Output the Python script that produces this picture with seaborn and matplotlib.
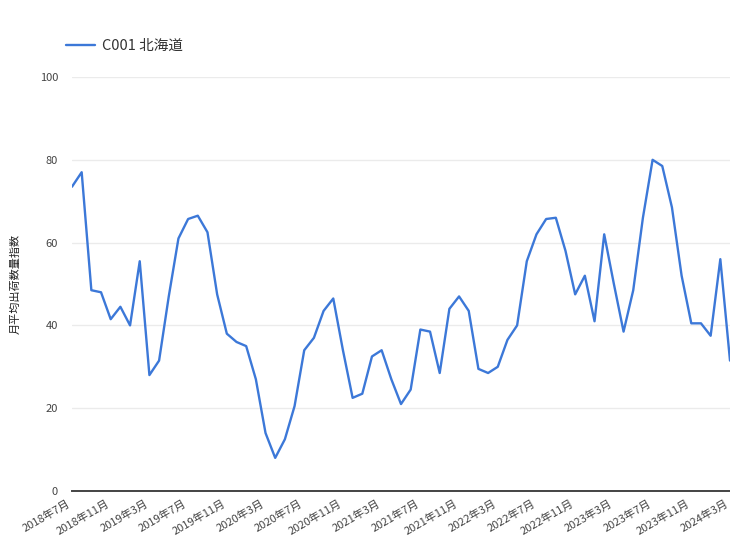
import pandas as pd
import matplotlib.pyplot as plt
import matplotlib.transforms as mtransforms
import seaborn as sns

# monthly index values, 2018-07 .. 2024-03
months = pd.period_range("2018-07", "2024-03", freq="M")
values = [
    73.5, 77.0, 48.5, 48.0, 41.5, 44.5, 40.0, 55.5, 28.0, 31.5,
    47.0, 61.0, 65.7, 66.5, 62.5, 47.5, 38.0, 36.0, 35.0, 27.0,
    14.0, 8.0, 12.5, 20.5, 34.0, 37.0, 43.5, 46.5, 34.0, 22.5,
    23.5, 32.5, 34.0, 27.0, 21.0, 24.5, 39.0, 38.5, 28.5, 44.0,
    47.0, 43.5, 29.5, 28.5, 30.0, 36.5, 40.0, 55.5, 62.0, 65.7,
    66.0, 58.0, 47.5, 52.0, 41.0, 62.0, 50.0, 38.5, 48.5, 66.0,
    80.0, 78.5, 68.5, 52.0, 40.5, 40.5, 37.5, 56.0, 31.5,
]
series_name = "C001 北海道"
y_label = "月平均出荷数量指数"
tick_step = 4

df = pd.DataFrame({"idx": range(len(values)), "value": values, "series": series_name})
tick_pos = list(range(0, len(values), tick_step))
tick_labels = [f"{months[i].year}年{months[i].month}月" for i in tick_pos]

sns.set_style("white")
plt.rcParams["font.family"] = ["Noto Sans CJK JP", "DejaVu Sans"]

fig = plt.figure(figsize=(7.3, 5.47), dpi=100)
ax = fig.add_axes([72 / 730, 56 / 547, 658 / 730, 414 / 547])

sns.lineplot(data=df, x="idx", y="value", hue="series", palette=["#3c78d8"],
             linewidth=1.7, ax=ax, legend=True)

ax.set_xlim(0, len(values) - 1)
ax.set_ylim(0, 100)
ax.set_yticks([0, 20, 40, 60, 80, 100])
ax.tick_params(axis="y", labelsize=8, colors="#444444", length=0, pad=10)
ax.set_xticks(tick_pos)
ax.set_xticklabels(tick_labels, rotation=30, ha="right", rotation_mode="anchor",
                   fontsize=8, color="#444444")
ax.tick_params(axis="x", length=0, pad=5)
# nudge x labels a little left so the last one stays inside the figure
shift = mtransforms.ScaledTranslation(-5 / 100, 0, fig.dpi_scale_trans)
for lbl in ax.get_xticklabels():
    lbl.set_transform(lbl.get_transform() + shift)

ax.grid(axis="y", color="#ebebeb", linewidth=1)
ax.set_axisbelow(True)
for s in ["top", "right", "left"]:
    ax.spines[s].set_visible(False)
ax.spines["bottom"].set_color("#444444")
ax.spines["bottom"].set_linewidth(1.4)
ax.spines["bottom"].set_zorder(3)

ax.set_xlabel("")
ax.set_ylabel(y_label, fontsize=8, color="#222222", labelpad=14)

leg = ax.legend(loc="center left", bbox_to_anchor=(66 / 730, 1 - 46 / 547),
                bbox_transform=fig.transFigure, frameon=False, borderpad=0,
                borderaxespad=0, fontsize=10.5, handlelength=2.0, handletextpad=0.45)
for t in leg.get_texts():
    t.set_color("#333333")

fig.savefig("out.png", dpi=100)
